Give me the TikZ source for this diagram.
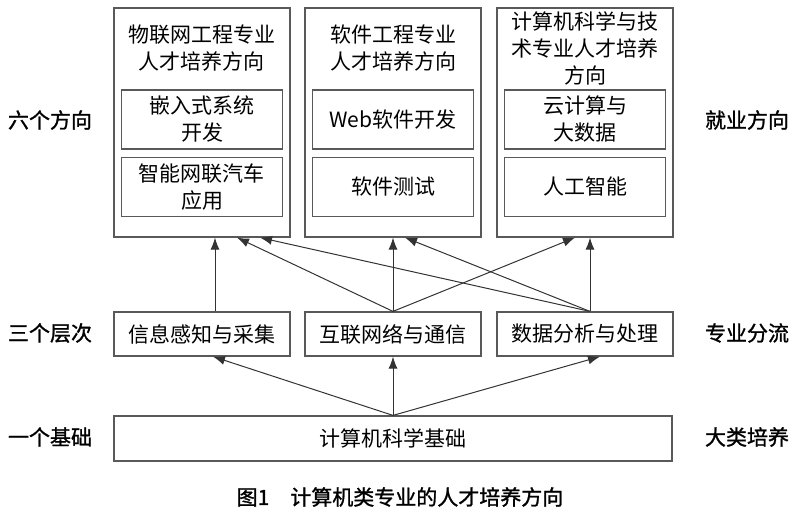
\documentclass[tikz,border=0pt]{standalone}
\usepackage{fontspec}
\setmainfont{Noto Sans CJK SC}
\newfontfamily\labelfont{Noto Sans CJK SC}[FakeBold=1.2]
\usetikzlibrary{arrows.meta,positioning}
\newcommand\boxfont{\fontsize{10.5pt}{13.5pt}\selectfont}
\tikzset{
  major/.style = {draw=black!65, line width=0.6pt, minimum width=88pt, minimum height=114.5pt, inner sep=0pt},
  sub/.style   = {draw=black!65, line width=0.6pt, minimum width=80.5pt, minimum height=29.5pt, align=center, inner sep=0pt},
  layer/.style = {draw=black!65, line width=0.6pt, minimum width=88pt, minimum height=22pt, inner sep=0pt},
  side/.style  = {font=\labelfont\boxfont},
  line/.style  = {-{Latex[length=6pt,width=4.5pt]}, black!80, line width=0.5pt},
}

\begin{document}
\begin{tikzpicture}[x=0.5pt, y=-0.5pt, font=\boxfont]
    \useasboundingbox (0,0) rectangle (800,513);

    % Top row (three majors)
    \node[major] (iot) at (202,122.5) {};
    \node[major] (swe) at (393,122.5) {};
    \node[major] (cs)  at (585,122.5) {};
    \node[align=center] (iotT) at (202,48) {物联网工程专业\\人才培养方向};
    \node[align=center] (sweT) at (393,48) {软件工程专业\\人才培养方向};
    \node[align=center] (csT)  at (585,48) {计算机科学与技\\术专业人才培养\\方向};

    % Directions inside each major
    \node[sub] (emb) at (202,119.5) {嵌入式系统\\开发};
    \node[sub, below=3.5pt of emb] (car) {智能网联汽车\\应用};
    \node[sub] (web) at (393,119.5) {Web软件开发};
    \node[sub, below=3.5pt of web] (test) {软件测试};
    \node[sub] (cloud) at (585,119.5) {云计算与\\大数据};
    \node[sub, below=3.5pt of cloud] (ai) {人工智能};

    % Middle row (three levels)
    \node[layer] (info) at (202,334) {信息感知与采集};
    \node[layer] (net)  at (393,334) {互联网络与通信};
    \node[layer] (data) at (585,334) {数据分析与处理};

    % Base
    \node[draw=black!65, line width=0.6pt, minimum width=279pt, minimum height=22.5pt] (base) at (393,438.5) {计算机科学基础};

    % Side labels
    \node[side] (six)  at (50,120)  {六个方向};
    \node[side] (job)  at (747,120) {就业方向};
    \node[side] (three) at (50,333) {三个层次};
    \node[side] (split) at (747,333) {专业分流};
    \node[side] (one)  at (50,437)  {一个基础};
    \node[side] (broad) at (747,437) {大类培养};

    % Wires from levels to majors
    \draw[line] ([xshift=6.5pt]info.north) -- ([xshift=6.5pt]iot.south);
    \draw[line] (net.north) -- ([xshift=17.5pt]iot.south);
    \draw[line] (net.north) -- (swe.south);
    \draw[line] (net.north) -- ([xshift=-5pt]cs.south);
    \draw[line] ([xshift=2.5pt]data.north) -- ([xshift=29pt]iot.south);
    \draw[line] ([xshift=2.5pt]data.north) -- ([xshift=6pt]swe.south);
    \draw[line] ([xshift=2.5pt]data.north) -- ([xshift=2.5pt]cs.south);

    % Wires from base to levels
    \draw[line] (base.north) -- ([xshift=5.5pt]info.south);
    \draw[line] (base.north) -- (net.south);
    \draw[line] (base.north) -- ([xshift=7.5pt]data.south);

    % Caption
    \node[side] (cap) at (400,497) {图1\quad 计算机类专业的人才培养方向};
\end{tikzpicture}
\end{document}
